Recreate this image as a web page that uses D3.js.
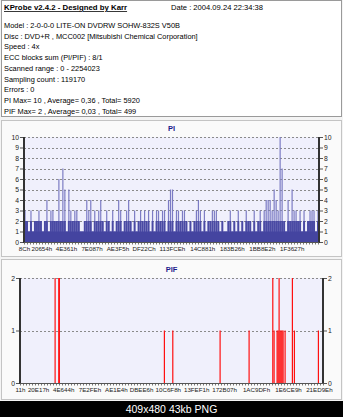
<!DOCTYPE html>
<html>
<head>
<meta charset="utf-8">
<script src="https://cdn.jsdelivr.net/npm/d3@7/dist/d3.min.js"></script>
<style>
  html, body { margin: 0; padding: 0; background: #ffffff; }
  svg { display: block; }
  text { font-family: "Liberation Sans", Arial, sans-serif; }
</style>
</head>
<body>
<svg id="chart" width="343" height="417"></svg>
<script>
// ---- report header ----
const titleText = "KProbe v2.4.2 - Designed by Karr";
const dateText = "Date : 2004.09.24 22:34:38";
const infoLines = [
  "Model : 2-0-0-0 LITE-ON DVDRW SOHW-832S  V50B",
  "Disc : DVD+R , MCC002 [Mitsubishi Chemical Corporation]",
  "Speed : 4x",
  "ECC blocks sum (PI/PIF) : 8/1",
  "Scanned range : 0 - 2254023",
  "Sampling count : 119170",
  "Errors : 0",
  "PI Max= 10 , Average= 0,36 , Total= 5920",
  "PIF Max= 2 , Average= 0,03 , Total= 499"
];
const captionText = "409x480 43kb PNG";

// ---- PI scan: error count per equal-width slice of the sector range ----
const piRange = [0x8C, 2254023];
const piValues = [
  3,2,1,3,1,2,2,3,2,1, 2,4,1,3,3,2,2,6,2,7,
  5,1,5,3,2,3,3,2,1,1, 2,4,3,4,1,3,2,3,4,2,
  1,3,2,1,3,1,2,4,3,1, 2,3,4,2,1,3,1,2,3,2,
  3,2,3,1,3,1,3,3,2,3, 3,1,4,5,5,1,3,3,2,3,
  3,2,1,2,1,2,3,4,3,1, 3,1,2,2,3,3,3,2,1,2,
  1,1,2,3,1,2,1,3,1,2, 1,3,2,2,1,3,1,2,3,1,
  3,4,4,4,3,5,4,3,10,7, 2,1,4,2,5,3,3,2,3,1,
  3,1,2,3,3,3,1,3
];
const piYTicks = [0,1,2,3,4,5,6,7,8,9,10];
const piXTicks = [0x8C, 0x20654, 0x4E361, 0x7E087, 0xAE3F5, 0xDF22C,
                  0x113FCE, 0x14C881, 0x183B26, 0x1BB8E2, 0x1F3627];

// ---- PIF scan: sector position and count of each nonzero sample ----
const pifRange = [0x11, 2254023];
const pifSectors = [260400, 287900, 292000, 1073400, 1135900, 1487800, 1703500,
                    1879800, 1889500, 1911800, 1919300, 1926700, 1934100, 1941600,
                    1949000, 1956500, 1971300, 2025600, 2040500, 2219100];
const pifValues  = [2, 2, 2, 1, 1, 1, 1,
                    2, 1, 1, 1, 2, 1, 1,
                    1, 1, 1, 2, 1, 1];
const pifYTicks = [0, 1, 2];
const pifXTicks = [0x11, 0x20E17, 0x4E644, 0x7E2FE, 0xAE1E4, 0xDBEE6, 0x10C6F8,
                   0x13FEF1, 0x172B07, 0x1AC9DF, 0x1E6CE9, 0x21ED9E];

const svg = d3.select("#chart");
const W = 343, H = 417;
const hex = d => d.toString(16).toUpperCase() + "h";
const FONT = "Liberation Sans, Arial, sans-serif";

// page frame
svg.append("rect").attr("x", 0).attr("y", 0).attr("width", W).attr("height", H)
  .attr("fill", "#f4f4f4");

// header box
svg.append("rect").attr("x", 1.5).attr("y", 0.5).attr("width", 340).attr("height", 116)
  .attr("fill", "#ffffff").attr("stroke", "#9a9a9a");
svg.append("text").attr("x", 4).attr("y", 10)
  .attr("font-size", 7.8).attr("font-weight", "bold").attr("fill", "#000")
  .attr("text-decoration", "underline").text(titleText);
svg.append("text").attr("x", 171).attr("y", 10)
  .attr("font-size", 7.6).attr("fill", "#000").text(dateText);
svg.selectAll("text.info").data(infoLines).join("text")
  .attr("class", "info")
  .attr("x", 4).attr("y", (d, i) => 28 + i * 10.7)
  .attr("font-size", 7.4).attr("fill", "#000").text(d => d);

// chart panels
svg.append("rect").attr("x", 1.5).attr("y", 120.5).attr("width", 340).attr("height", 136)
  .attr("fill", "#fafafa").attr("stroke", "#c4c4c4");
svg.append("rect").attr("x", 1.5).attr("y", 259.5).attr("width", 340).attr("height", 140)
  .attr("fill", "#fafafa").attr("stroke", "#c4c4c4");

function drawPanel(cfg) {
  const g = svg.append("g");
  const x = d3.scaleLinear().domain(cfg.xDomain).range([cfg.left, cfg.right]);
  const y = d3.scaleLinear().domain([0, cfg.yMax]).range([cfg.bottom, cfg.top]);

  g.append("rect").attr("x", cfg.left).attr("y", cfg.top)
    .attr("width", cfg.right - cfg.left).attr("height", cfg.bottom - cfg.top)
    .attr("fill", "#f0f0fc");

  // dashed grid at each count level
  g.selectAll("line.grid").data(cfg.yTicks.filter(t => t > 0)).join("line")
    .attr("x1", cfg.left).attr("x2", cfg.right)
    .attr("y1", d => Math.round(y(d)) + 0.5).attr("y2", d => Math.round(y(d)) + 0.5)
    .attr("stroke", "#8a8a8a").attr("stroke-width", 1).attr("stroke-dasharray", "2,2");

  cfg.drawBars(g, x, y);

  // frame: left and right value axes
  g.append("line").attr("x1", cfg.left).attr("x2", cfg.left)
    .attr("y1", cfg.top).attr("y2", cfg.bottom + 1)
    .attr("stroke", "#333").attr("stroke-width", 2);
  g.append("line").attr("x1", cfg.right).attr("x2", cfg.right)
    .attr("y1", cfg.top).attr("y2", cfg.bottom + 1)
    .attr("stroke", "#333").attr("stroke-width", 2);

  const fmt = d3.format("d");
  const yl = d3.axisLeft(y).tickValues(cfg.yTicks).tickFormat(fmt).tickSize(3).tickPadding(1);
  const yr = d3.axisRight(y).tickValues(cfg.yTicks).tickFormat(fmt).tickSize(3).tickPadding(1);
  const gl = g.append("g").attr("transform", `translate(${cfg.left - 1},0)`).call(yl);
  const gr = g.append("g").attr("transform", `translate(${cfg.right + 1},0)`).call(yr);
  [gl, gr].forEach(a => {
    a.select(".domain").remove();
    a.selectAll("line").attr("stroke", "#555");
    a.selectAll("text").attr("font-size", 6.8).attr("fill", "#222").attr("font-family", FONT);
  });

  // bottom axis: dense minor ticks plus hexadecimal sector labels
  const minor = d3.range(cfg.left, cfg.right + 0.1, 3);
  g.selectAll("line.minor").data(minor).join("line")
    .attr("x1", d => d + 0.5).attr("x2", d => d + 0.5)
    .attr("y1", cfg.bottom + 0.5).attr("y2", cfg.bottom + 2.5)
    .attr("stroke", "#777").attr("stroke-width", 1);
  g.append("line").attr("x1", cfg.left).attr("x2", cfg.right)
    .attr("y1", cfg.bottom + 0.5).attr("y2", cfg.bottom + 0.5)
    .attr("stroke", "#555");
  const xb = d3.axisBottom(x).tickValues(cfg.xTicks).tickFormat(hex).tickSize(0).tickPadding(4);
  const gb = g.append("g").attr("transform", `translate(0,${cfg.bottom + 1})`).call(xb);
  gb.select(".domain").remove();
  gb.selectAll("text").attr("font-size", 6.2).attr("fill", "#222").attr("font-family", FONT);

  svg.append("text").attr("x", (cfg.left + cfg.right) / 2).attr("y", cfg.top - 6)
    .attr("text-anchor", "middle").attr("font-size", 7.5).attr("font-weight", "bold")
    .attr("fill", "#1a1a8c").text(cfg.title);
}

drawPanel({
  title: "PI", left: 24, right: 319, top: 137, bottom: 242, yMax: 10,
  xDomain: piRange, xTicks: piXTicks, yTicks: piYTicks,
  drawBars(g, x, y) {
    const step = (piRange[1] - piRange[0]) / piValues.length;
    const bars = piValues.map((v, i) => ({ v, s0: piRange[0] + i * step, s1: piRange[0] + (i + 1) * step }));
    // lower part of each slice
    g.selectAll("rect.lo").data(bars).join("rect")
      .attr("x", d => x(d.s0)).attr("width", d => x(d.s1) - x(d.s0))
      .attr("y", d => y(Math.min(d.v, 2))).attr("height", d => y(0) - y(Math.min(d.v, 2)))
      .attr("fill", "#4a4aa4");
    // peaks above the common level, thinner and paler
    g.selectAll("rect.hi").data(bars.filter(d => d.v > 2)).join("rect")
      .attr("x", d => x(d.s0) + 0.4).attr("width", d => Math.max(1, x(d.s1) - x(d.s0) - 0.8))
      .attr("y", d => y(d.v)).attr("height", d => y(2) - y(d.v))
      .attr("fill", "#7c7cc4");
    // solid base band
    g.append("rect").attr("x", x(piRange[0])).attr("width", x(piRange[1]) - x(piRange[0]))
      .attr("y", y(1)).attr("height", y(0) - y(1)).attr("fill", "#4444a0");
  }
});

drawPanel({
  title: "PIF", left: 20, right: 323, top: 278, bottom: 383, yMax: 2,
  xDomain: pifRange, xTicks: pifXTicks, yTicks: pifYTicks,
  drawBars(g, x, y) {
    const pts = pifSectors.map((s, i) => ({ s, v: pifValues[i] }));
    g.selectAll("rect.pif").data(pts).join("rect")
      .attr("x", d => x(d.s) - 0.5).attr("width", 1.2)
      .attr("y", d => y(d.v)).attr("height", d => y(0) - y(d.v))
      .attr("fill", "#ff1010");
  }
});

// image caption strip
svg.append("rect").attr("x", 0).attr("y", 401).attr("width", W).attr("height", 16).attr("fill", "#000");
svg.append("text").attr("x", W / 2).attr("y", 413).attr("text-anchor", "middle")
  .attr("font-size", 10.5).attr("fill", "#fff").text(captionText);
</script>
</body>
</html>
